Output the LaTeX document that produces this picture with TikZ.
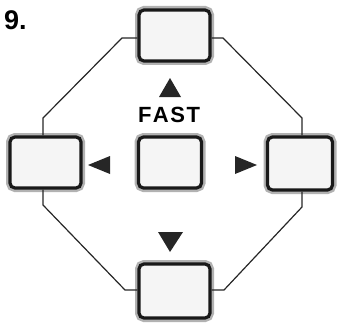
\documentclass[tikz,border=0pt]{standalone}
\usepackage{fontspec}
\setmainfont{Liberation Sans}
\begin{document}
\begin{tikzpicture}[x=1pt,y=-1pt,
  btn/.style={draw=black!90, line width=3.2pt, rounded corners=5pt, fill=black!4,
    inner sep=0pt,
    preaction={draw=black!30, line width=8pt, rounded corners=5pt}},
  wire/.style={draw=black!85, line width=1.2pt},
  tri/.style={fill=black!85, draw=none}]
\useasboundingbox (0,0) rectangle (344,326);
\node[btn, minimum width=71pt, minimum height=51pt] (top) at (174.5,35.5) {};
\node[btn, minimum width=71pt, minimum height=51pt] (left) at (45.5,162.5) {};
\node[btn, minimum width=63pt, minimum height=51pt] (mid) at (170,162.5) {};
\node[btn, minimum width=65pt, minimum height=53pt] (right) at (300,163.5) {};
\node[btn, minimum width=71pt, minimum height=54pt] (bot) at (174.5,291) {};
\coordinate (tl1) at (122,38);
\coordinate (tl2) at (43,118);
\coordinate (tr1) at (223,38);
\coordinate (tr2) at (302,118);
\coordinate (bl1) at (43,205);
\coordinate (bl2) at (125,290);
\coordinate (br1) at (302,207);
\coordinate (br2) at (224,290);
\draw[wire] (top.west |- tl1) -- (tl1) -- (tl2) -- (tl2 |- left.north);
\draw[wire] (top.east |- tr1) -- (tr1) -- (tr2) -- (tr2 |- right.north);
\draw[wire] (bl1 |- left.south) -- (bl1) -- (bl2) -- (bot.west |- bl2);
\draw[wire] (br1 |- right.south) -- (br1) -- (br2) -- (bot.east |- br2);
\fill[tri] (170,78) -- (181,97) -- (159,97) -- cycle;
\node (fast) at (169,115) {\fontsize{22}{22}\selectfont\bfseries F\kern1.5pt A\kern1.5pt S\kern1.5pt T};
\fill[tri] (88,165) -- (110,156) -- (110,174) -- cycle;
\fill[tri] (257,165) -- (235,156) -- (235,174) -- cycle;
\fill[tri] (170,252) -- (158,232) -- (183,232) -- cycle;
\node[anchor=west, inner sep=0pt] (num) at (4,20) {\fontsize{27}{27}\selectfont\bfseries 9.};
\end{tikzpicture}
\end{document}
